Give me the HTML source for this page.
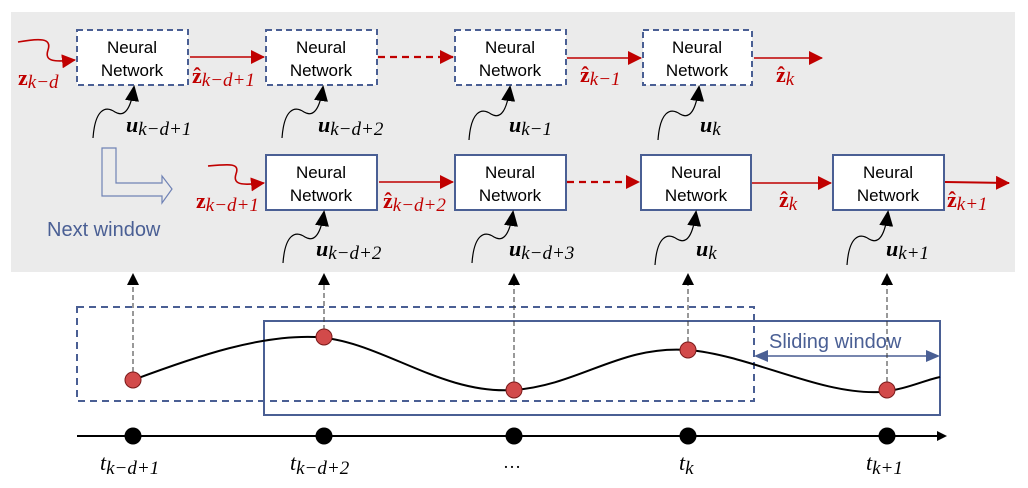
<!DOCTYPE html>
<html><head><meta charset="utf-8"><style>
html,body{margin:0;padding:0;background:#fff;}
svg{display:block;}
.nn{font-family:"Liberation Sans",sans-serif;font-size:17px;fill:#000;text-anchor:middle;}
.m{font-family:"Liberation Serif",serif;}
.zr{fill:#c00000;font-weight:bold;font-size:22px;}
.ub{fill:#000;font-weight:bold;font-style:italic;font-size:22px;}
.sub{font-style:italic;font-weight:normal;font-size:19px;}
.t{font-family:"Liberation Serif",serif;font-style:italic;font-size:22px;}
.ts{font-size:19px;}
</style></head><body>
<svg width="1028" height="488" viewBox="0 0 1028 488" xmlns="http://www.w3.org/2000/svg">
<defs>
<marker id="ar2" markerWidth="14" markerHeight="14" refX="13" refY="7" orient="auto" markerUnits="userSpaceOnUse"><path d="M0,0 L14,7 L0,14 z" fill="#c00000"/></marker>
<marker id="ab2" markerWidth="16" markerHeight="14" refX="14" refY="7" orient="auto" markerUnits="userSpaceOnUse"><path d="M0,0 L16,7 L0,14 z" fill="#000"/></marker>
</defs>
<rect x="11" y="12" width="1004" height="260" fill="#ebebeb"/>

<g fill="#fff" stroke="#4a5f94" stroke-width="2" stroke-dasharray="6,4">
<rect x="77" y="30" width="111" height="55"/>
<rect x="266" y="30" width="111" height="55"/>
<rect x="455" y="30" width="111" height="55"/>
<rect x="643" y="30" width="109" height="55"/>
</g>
<g fill="#fff" stroke="#4a5f94" stroke-width="2">
<rect x="266" y="155" width="111" height="55"/>
<rect x="455" y="155" width="111" height="55"/>
<rect x="641" y="155" width="110" height="55"/>
<rect x="833" y="155" width="111" height="55"/>
</g>
<g class="nn">
<text x="132" y="53">Neural</text><text x="132" y="76">Network</text>
<text x="321" y="53">Neural</text><text x="321" y="76">Network</text>
<text x="510" y="53">Neural</text><text x="510" y="76">Network</text>
<text x="697" y="53">Neural</text><text x="697" y="76">Network</text>
<text x="321" y="178">Neural</text><text x="321" y="201">Network</text>
<text x="510" y="178">Neural</text><text x="510" y="201">Network</text>
<text x="696" y="178">Neural</text><text x="696" y="201">Network</text>
<text x="888" y="178">Neural</text><text x="888" y="201">Network</text>
</g>

<g stroke="#c00000" stroke-width="1.6" fill="none">
<path d="M18,42 C40,38 52,38 48,50 C44,62 55,62 75,60" marker-end="url(#ar2)"/>
<path d="M190,57 L264,57" marker-end="url(#ar2)"/>
<path d="M378,57 L453,57" stroke-dasharray="7,5" stroke-width="2.2" marker-end="url(#ar2)"/>
<path d="M567,58 L641,58" marker-end="url(#ar2)"/>
<path d="M754,58 L822,58" marker-end="url(#ar2)"/>
<path d="M208,166 C230,164 240,163 236,174 C232,186 245,185 264,183" marker-end="url(#ar2)"/>
<path d="M379,182 L453,182" marker-end="url(#ar2)"/>
<path d="M567,182 L639,182" stroke-dasharray="7,5" stroke-width="2.2" marker-end="url(#ar2)"/>
<path d="M752,183 L831,183" marker-end="url(#ar2)"/>
<path d="M945,182 L1009,183" stroke-width="2" marker-end="url(#ar2)"/>
</g>

<g stroke="#000" stroke-width="1.2" fill="none">
<path d="M93,138 C95,110 105,105 115,112 C125,118 131,108 134,87" marker-end="url(#ab2)"/>
<path d="M282,138 C284,110 294,105 304,112 C314,118 320,108 323,87" marker-end="url(#ab2)"/>
<path d="M469,140 C471,112 481,107 491,114 C501,120 507,110 510,87" marker-end="url(#ab2)"/>
<path d="M658,140 C660,112 670,107 680,114 C690,120 696,110 699,87" marker-end="url(#ab2)"/>
<path d="M283,263 C285,235 295,230 305,237 C315,243 321,233 324,212" marker-end="url(#ab2)"/>
<path d="M472,263 C474,235 484,230 494,237 C504,243 510,233 513,212" marker-end="url(#ab2)"/>
<path d="M655,265 C657,237 667,232 677,239 C687,245 693,235 696,212" marker-end="url(#ab2)"/>
<path d="M847,265 C849,237 859,232 869,239 C879,245 885,235 888,212" marker-end="url(#ab2)"/>
</g>

<g class="m zr">
<text x="18" y="85">z<tspan class="sub" dy="3">k−d</tspan></text>
<text x="192" y="83">ẑ<tspan class="sub" dy="3">k−d+1</tspan></text>
<text x="580" y="82">ẑ<tspan class="sub" dy="3">k−1</tspan></text>
<text x="776" y="82">ẑ<tspan class="sub" dy="3">k</tspan></text>
<text x="196" y="208">z<tspan class="sub" dy="3">k−d+1</tspan></text>
<text x="383" y="208">ẑ<tspan class="sub" dy="3">k−d+2</tspan></text>
<text x="779" y="207">ẑ<tspan class="sub" dy="3">k</tspan></text>
<text x="947" y="207">ẑ<tspan class="sub" dy="3">k+1</tspan></text>
</g>
<g class="m ub">
<text x="126" y="132">u<tspan class="sub" dy="3">k−d+1</tspan></text>
<text x="318" y="132">u<tspan class="sub" dy="3">k−d+2</tspan></text>
<text x="509" y="132">u<tspan class="sub" dy="3">k−1</tspan></text>
<text x="700" y="132">u<tspan class="sub" dy="3">k</tspan></text>
<text x="316" y="256">u<tspan class="sub" dy="3">k−d+2</tspan></text>
<text x="509" y="256">u<tspan class="sub" dy="3">k−d+3</tspan></text>
<text x="696" y="256">u<tspan class="sub" dy="3">k</tspan></text>
<text x="886" y="256">u<tspan class="sub" dy="3">k+1</tspan></text>
</g>

<path d="M102,148 L116,148 L116,183 L162,183 L162,176 L172,189 L162,203 L162,196 L102,196 Z" fill="none" stroke="#6f82b5" stroke-width="1.2"/>
<text x="47" y="236" font-family="Liberation Sans,sans-serif" font-size="20" fill="#4a5f94">Next window</text>

<rect x="77" y="307" width="677" height="94" fill="none" stroke="#4a5f94" stroke-width="2" stroke-dasharray="7,5"/>
<rect x="264" y="321" width="676" height="94" fill="none" stroke="#4a5f94" stroke-width="2"/>
<text x="769" y="348" font-family="Liberation Sans,sans-serif" font-size="20" fill="#4a5f94">Sliding window</text>
<line x1="766" y1="356" x2="928" y2="356" stroke="#4a5f94" stroke-width="1.5"/>
<path d="M754,356 L768,350 L768,362 Z M940,356 L926,350 L926,362 Z" fill="#4a5f94"/>

<g stroke="#333" stroke-width="1" stroke-dasharray="5,3">
<line x1="133" y1="372" x2="133" y2="285"/>
<line x1="324" y1="330" x2="324" y2="285"/>
<line x1="514" y1="382" x2="514" y2="285"/>
<line x1="688" y1="342" x2="688" y2="285"/>
<line x1="887" y1="382" x2="887" y2="285"/>
</g>
<g fill="#000">
<path d="M127,285 L133,273 L139,285 Z"/><path d="M318,285 L324,273 L330,285 Z"/>
<path d="M508,285 L514,273 L520,285 Z"/><path d="M682,285 L688,273 L694,285 Z"/>
<path d="M881,285 L887,273 L893,285 Z"/>
</g>

<path d="M133,380 C200,355 260,335 315,337 C380,340 440,395 514,390 C580,385 620,345 688,350 C750,355 820,395 880,392 C905,390 925,380 940,377" fill="none" stroke="#000" stroke-width="2"/>
<g fill="#d24a4a" stroke="#7a1a1a" stroke-width="1">
<ellipse cx="133" cy="380" rx="8" ry="8"/><ellipse cx="324" cy="337" rx="8" ry="8"/>
<ellipse cx="514" cy="390" rx="8" ry="8"/><ellipse cx="688" cy="350" rx="8" ry="8"/>
<ellipse cx="887" cy="390" rx="8" ry="8"/>
</g>

<line x1="77" y1="436" x2="940" y2="436" stroke="#000" stroke-width="2"/>
<path d="M937,431 L947,436 L937,441 Z" fill="#000"/>
<g fill="#000"><circle cx="133" cy="436" r="8.5"/><circle cx="324" cy="436" r="8.5"/><circle cx="514" cy="436" r="8.5"/><circle cx="688" cy="436" r="8.5"/><circle cx="887" cy="436" r="8.5"/></g>
<g class="t">
<text x="100" y="470">t<tspan class="ts" dy="4">k−d+1</tspan></text>
<text x="290" y="470">t<tspan class="ts" dy="4">k−d+2</tspan></text>
<text x="503" y="468" font-style="normal" font-size="18">…</text>
<text x="679" y="470">t<tspan class="ts" dy="4">k</tspan></text>
<text x="866" y="470">t<tspan class="ts" dy="4">k+1</tspan></text>
</g>
</svg>
</body></html>
